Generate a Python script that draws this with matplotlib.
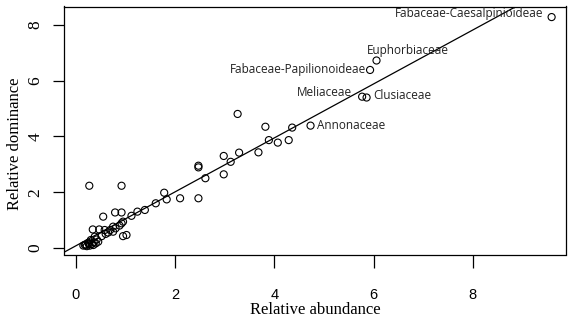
import matplotlib
matplotlib.use("Agg")
import matplotlib.pyplot as plt

# relative abundance (x) vs relative dominance (y) per family
abundance = [
    9.59, 6.06, 5.93, 5.77, 5.86, 4.73,
    3.26, 3.82, 4.36, 3.89, 4.07, 4.29, 2.98, 3.29, 3.68, 3.12,
    2.47, 2.47, 2.98, 2.61, 2.47, 2.10, 1.83, 1.78, 1.61, 1.39,
    1.24, 1.12, 0.27, 0.92, 0.79, 0.92, 0.55, 0.92, 0.95, 0.88,
    0.75, 0.75, 0.69, 0.58, 0.47, 0.34, 0.95, 1.02, 0.52, 0.38,
    0.42, 0.30, 0.36, 0.25, 0.20, 0.18, 0.22, 0.28, 0.32, 0.40,
    0.45, 0.26, 0.15, 0.35, 0.60, 0.65, 0.80,
]
dominance = [
    8.29, 6.73, 6.39, 5.43, 5.40, 4.39,
    4.81, 4.35, 4.32, 3.87, 3.78, 3.87, 3.30, 3.42, 3.43, 3.09,
    2.95, 2.89, 2.64, 2.50, 1.78, 1.78, 1.74, 1.98, 1.60, 1.36,
    1.30, 1.15, 2.23, 2.23, 1.27, 1.27, 1.12, 0.88, 0.94, 0.80,
    0.76, 0.58, 0.64, 0.64, 0.66, 0.66, 0.42, 0.46, 0.42, 0.40,
    0.30, 0.28, 0.20, 0.18, 0.12, 0.10, 0.06, 0.08, 0.14, 0.16,
    0.22, 0.14, 0.08, 0.10, 0.50, 0.55, 0.70,
]

# labelled families: (name, x, y)
labels = [
    ("Fabaceae-Caesalpinioideae", 9.59, 8.29),
    ("Euphorbiaceae", 6.06, 6.73),
    ("Fabaceae-Papilionoideae", 5.93, 6.39),
    ("Meliaceae", 5.77, 5.43),
    ("Clusiaceae", 5.86, 5.40),
    ("Annonaceae", 4.73, 4.39),
]
# label placement (offset in points, horizontal alignment)
label_pos = [
    ((-6, 2.5), "right"),
    ((-7, 7), "left"),
    ((-3, 0), "right"),
    ((-7.5, 3), "right"),
    ((4.5, 1.5), "left"),
    ((4.5, 0), "left"),
]

# regression line
intercept = 0.073
slope = 0.969

fig = plt.figure(figsize=(5.68, 3.2), dpi=100)
ax = fig.add_axes([64 / 568, 1 - 254.5 / 320, 502 / 568, 248 / 320])

ax.scatter(abundance, dominance, s=26, facecolors="none",
           edgecolors="black", linewidths=0.8, zorder=3)
ax.axline((0, intercept), slope=slope, color="black", linewidth=0.9)

for (name, x, y), (off, ha) in zip(labels, label_pos):
    ax.annotate(name, (x, y), xytext=off, textcoords="offset points",
                ha=ha, va="center", fontsize=8.5, family="Open Sans",
                color="#222222")

ax.set_xlim(-0.24, 9.88)
ax.set_ylim(-0.24, 8.67)
ax.set_xticks([0, 2, 4, 6, 8])
ax.set_yticks([0, 2, 4, 6, 8])

for sp in ax.spines.values():
    sp.set_linewidth(0.9)

ax.tick_params(axis="x", length=9, width=0.9, pad=15, labelsize=10.5)
ax.tick_params(axis="y", length=8, width=0.9, pad=7, labelsize=12.5,
               labelrotation=90)
for t in ax.get_xticklabels():
    t.set_family("Liberation Sans")
for t in ax.get_yticklabels():
    t.set_family("Liberation Serif")
    t.set_va("center")

ax.set_xlabel("Relative abundance", family="Liberation Serif", fontsize=12)
ax.set_ylabel("Relative dominance", family="Liberation Serif", fontsize=12)
ax.xaxis.set_label_coords(0.5, -0.19)
ax.yaxis.set_label_coords(-0.082, 0.445)

fig.savefig("out.png", dpi=100)
